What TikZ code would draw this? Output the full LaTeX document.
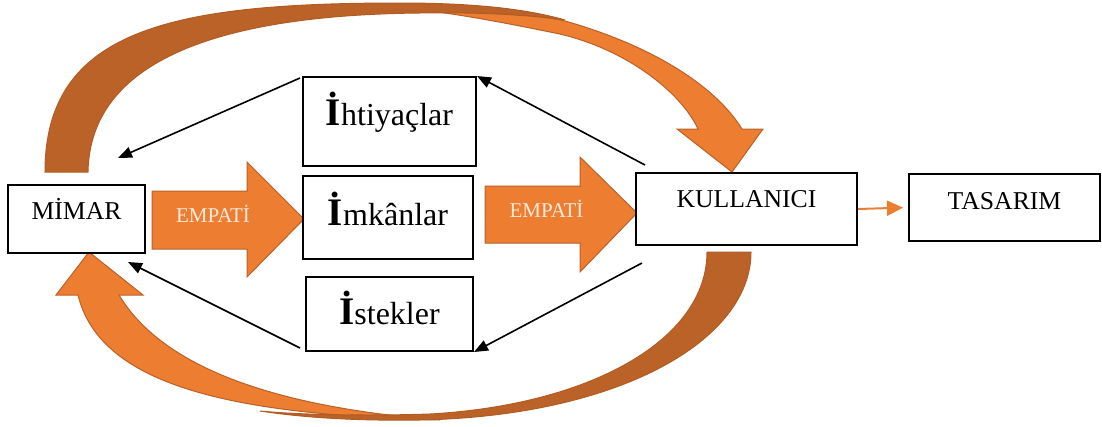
\documentclass[tikz,border=0pt]{standalone}
\usepackage{fontspec}
\setmainfont{Liberation Serif}
\usetikzlibrary{arrows.meta}

\definecolor{empOrange}{HTML}{ED7D31}
\definecolor{empEdge}{HTML}{B8622A}
\definecolor{loopDark}{HTML}{BA6228}
\definecolor{loopEdge}{HTML}{B25C24}
\definecolor{empText}{HTML}{FCEBDD}

% label text with its baseline moved relative to the box centre
\newcommand\boxlabel[2]{\raisebox{#1}[0pt][0pt]{#2}}
% large bold initial letter
\newcommand\leadI{{\fontsize{39}{40}\selectfont\bfseries İ}}

\begin{document}
\begin{tikzpicture}[x=1pt,y=-1pt,
  box/.style={draw, line width=2pt, fill=white, inner sep=0pt,
              font=\fontsize{25.7}{28}\selectfont},
  needbox/.style={box, font=\fontsize{32}{34}\selectfont},
  link/.style={line width=1.6pt, -{Triangle[length=14pt,width=11pt]}},
  emp/.style={fill=empOrange, draw=empEdge, line width=1pt},
  loopback/.style={fill=loopDark, draw=loopEdge, line width=1pt},
  emptext/.style={text=empText, font=\fontsize{21}{22}\selectfont,
                  anchor=base, inner sep=0pt}]
\useasboundingbox (0,0) rectangle (1102,426);

% upper feedback arrow: front (orange) part with head
\path[emp] (400,8) .. controls (470,6) and (520,12) .. (565,21)
  .. controls (650,45) and (715,85) .. (742,129)
  -- (763,129) -- (732,172) -- (677,129) -- (698,129)
  .. controls (680,90) and (620,45) .. (550,32)
  .. controls (500,22) and (450,12) .. (400,8) -- cycle;
% upper feedback arrow: back (dark) part with tail
\path[loopback] (45,172) .. controls (45,30) and (170,3) .. (400,3)
  .. controls (480,3) and (530,10) .. (565,20)
  .. controls (530,15) and (480,12) .. (420,13)
  .. controls (220,15) and (90,60) .. (88,172) -- cycle;

% lower feedback arrow: front (orange) part with head
\path[emp] (78,295) .. controls (100,385) and (230,415) .. (440,420)
  .. controls (310,410) and (170,380) .. (119,295)
  -- (143,295) -- (89,252) -- (56,295) -- cycle;
% lower feedback arrow: back (dark) part with tail
\path[loopback] (751,252) .. controls (751,340) and (620,416) .. (420,420)
  .. controls (350,421) and (300,417) .. (260,411)
  .. controls (300,415) and (370,416) .. (430,414)
  .. controls (590,405) and (707,340) .. (707,252) -- cycle;

% empathy block arrows
\path[emp] (152,191) -- (247,191) -- (247,162) -- (304,219)
  -- (247,277) -- (247,249) -- (152,249) -- cycle;
\path[emp] (485,186) -- (580,186) -- (580,157) -- (637,213)
  -- (580,272) -- (580,243) -- (485,243) -- cycle;
\node[emptext] (empL) at (213,222.7) {EMPATİ};
\node[emptext] (empR) at (546.5,217) {EMPATİ};

% boxes
\node[box, minimum width=137pt, minimum height=68pt] (mimar) at (76.5,219)
  {\boxlabel{0pt}{MİMAR}};
\node[needbox, minimum width=173pt, minimum height=89pt] (iht) at (389.5,121.5)
  {\boxlabel{-3.5pt}{\leadI htiyaçlar}};
\node[needbox, minimum width=170pt, minimum height=83pt] (imk) at (388,217.5)
  {\boxlabel{-7.5pt}{\leadI mkânlar}};
\node[needbox, minimum width=167pt, minimum height=74pt] (ist) at (389.5,314)
  {\boxlabel{-10pt}{\leadI stekler}};
\node[box, minimum width=221pt, minimum height=72pt] (kul) at (746.5,209)
  {\boxlabel{1.3pt}{KULLANICI}};
\node[box, minimum width=191pt, minimum height=67pt] (tas) at (1004.5,207.5)
  {\boxlabel{-1.5pt}{TASARIM}};

% thin connectors
\coordinate (kulNW) at (645,165);
\coordinate (kulSW) at (642,263);
\coordinate (ihtW) at (300,78);
\coordinate (istW) at (300,348);
\coordinate (mimNE) at (118,158);
\coordinate (mimSE) at (128,262);
\draw[link] (kulNW) -- (iht.north east);
\draw[link] (ihtW) -- (mimNE);
\draw[link] (istW) -- (mimSE);
\draw[link] (kulSW) -- (ist.south east);
\draw[empOrange, line width=2pt, shorten >=5pt,
      -{Triangle[length=16pt,width=15pt]}] (kul.east) -- (tas.west);
\end{tikzpicture}
\end{document}
